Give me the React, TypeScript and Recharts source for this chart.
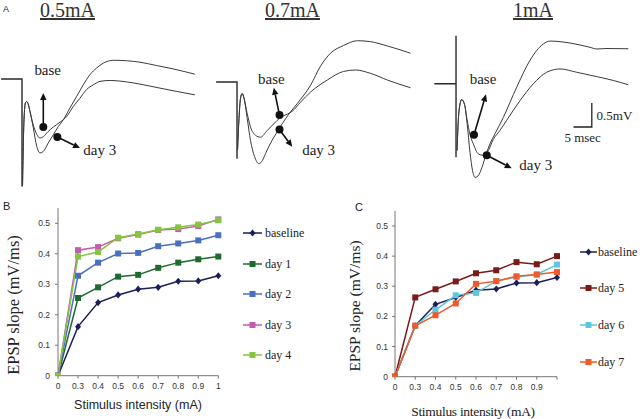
import React from 'react';
import { LineChart, Line, XAxis, YAxis, ReferenceLine, ReferenceDot } from 'recharts';

// ---------- Panel A: field potential traces (time in ms, voltage in mV) ----------
const PX_PER_MS = 3.67;
const PX_PER_MV = 48;

type Pt = [number, number];

const artifact05: Pt[] = [[-5.7, 0], [0, 0], [0, -2.24]];
const day3Trace05: Pt[] = [[0.14, -2.22], [0.54, -0.85], [0.95, -0.49], [1.28, -0.47], [1.63, -0.51], [2.18, -0.68], [3.08, -1.02], [4.0, -1.4], [4.9, -1.54], [5.8, -1.51], [7.17, -1.33], [8.53, -1.16], [9.9, -0.99], [11.25, -0.85], [13.08, -0.6], [14.9, -0.36], [16.7, -0.12], [18.5, 0.09], [20.35, 0.23], [22.15, 0.33], [24.9, 0.39], [28.5, 0.38], [32.15, 0.35], [36.7, 0.28], [41.2, 0.21], [47.1, 0.1]];
const baseTrace05: Pt[] = [[0.14, -2.22], [0.54, -0.85], [0.95, -0.49], [1.28, -0.47], [1.63, -0.51], [2.18, -0.68], [3.08, -0.96], [4.0, -1.15], [4.9, -1.23], [5.8, -1.2], [7.17, -1.09], [8.53, -1.0], [10.35, -0.9], [12.17, -0.78], [14.0, -0.57], [15.8, -0.4], [17.6, -0.22], [19.45, -0.12], [21.25, -0.05], [24.0, -0.03], [28.5, -0.06], [33.05, -0.12], [37.6, -0.19], [42.2, -0.26], [47.1, -0.33]];

const artifact07: Pt[] = [[-5.7, 0], [0, 0], [0, -1.6]];
const day3Trace07: Pt[] = [[0.14, -1.42], [0.54, -0.76], [0.95, -0.34], [1.42, -0.24], [1.85, -0.32], [2.78, -0.76], [3.68, -1.22], [4.77, -1.55], [5.94, -1.7], [6.95, -1.63], [7.77, -1.49], [9.59, -1.21], [10.95, -1.04], [12.32, -0.87], [14.11, -0.67], [16.4, -0.45], [20.03, -0.07], [22.75, 0.33], [25.48, 0.6], [29.02, 0.76], [32.83, 0.86], [36.38, 0.84], [41.0, 0.75], [47.27, 0.6]];
const baseTrace07: Pt[] = [[0.14, -1.42], [0.54, -0.76], [0.95, -0.34], [1.42, -0.24], [1.85, -0.32], [2.78, -0.66], [3.68, -0.94], [5.04, -1.11], [6.4, -1.15], [8.23, -1.01], [10.03, -0.87], [11.85, -0.74], [13.68, -0.67], [15.04, -0.61], [17.3, -0.42], [20.03, -0.21], [24.58, 0.04], [29.02, 0.22], [32.3, 0.25], [36.38, 0.18], [41.0, 0.04], [47.27, -0.12]];

const artifact1: Pt[] = [[-5.9, 0], [0, 0], [0, 1.0], [0, -1.53]];
const day3Trace1: Pt[] = [[0.27, -1.39], [0.82, -0.56], [1.55, -0.33], [2.32, -0.43], [3.0, -0.81], [3.81, -1.43], [4.5, -1.81], [5.18, -1.95], [5.99, -1.92], [7.08, -1.74], [8.17, -1.47], [9.26, -1.25], [10.63, -1.04], [12.89, -0.7], [16.54, -0.07], [20.16, 0.49], [23.79, 0.83], [25.61, 0.89], [31.06, 0.85], [36.51, 0.76], [38.42, 0.725], [41.14, 0.735], [46.95, 0.73]];
const baseTrace1: Pt[] = [[0.27, -1.39], [0.82, -0.56], [1.55, -0.33], [2.32, -0.43], [3.0, -0.74], [3.81, -1.06], [4.71, -1.25], [6.08, -1.46], [7.44, -1.49], [8.8, -1.39], [10.16, -1.16], [11.99, -0.97], [13.81, -0.76], [17.44, -0.35], [21.06, 0.0], [24.71, 0.24], [28.34, 0.31], [32.89, 0.24], [38.34, 0.15], [42.86, 0.07], [46.95, -0.02]];

// annotation anchors: [dot, arrow tip, label]
const baseArrow05: Pt[] = [[5.8, -1.0], [5.8, -0.29], [7.0, 0.18]];
const day3Arrow05: Pt[] = [[9.62, -1.21], [15.8, -1.44], [16.7, -1.47]];
const baseArrow07: Pt[] = [[11.58, -0.69], [10.03, -0.12], [9.35, 0.07]];
const day3Arrow07: Pt[] = [[11.58, -0.99], [15.04, -1.35], [17.77, -1.42]];
const baseArrow1: Pt[] = [[4.9, -1.06], [8.17, -0.22], [7.36, 0.1]];
const day3Arrow1: Pt[] = [[8.37, -1.49], [15.18, -1.76], [17.25, -1.7]];

const scaleBar: Pt[] = [[32, -0.9], [37, -0.9], [37, -0.4]];
const scaleLabels = { mv: '0.5mV', ms: '5 msec' };
const scaleLabelPos: Pt[] = [[38.3, -0.66], [34.5, -1.11]];

const panelTitles = ['0.5mA', '0.7mA', '1mA'];

// ---------- Panel B ----------
const intensityB = ['0', '0.3', '0.4', '0.5', '0.6', '0.7', '0.8', '0.9', '1'];
const tickLabelsB = ['0', '0.3', '0.4', '0.5', '0.6', '0.7', '0.8', '0.9', '1'];
const baselineB = [0, 0.161, 0.24, 0.265, 0.284, 0.29, 0.31, 0.311, 0.328];
const day1B = [0, 0.255, 0.29, 0.325, 0.331, 0.354, 0.371, 0.382, 0.391];
const day2B = [0, 0.328, 0.371, 0.401, 0.403, 0.425, 0.434, 0.444, 0.461];
const day3B = [0, 0.412, 0.422, 0.451, 0.463, 0.478, 0.481, 0.491, 0.513];
const day4B = [0, 0.391, 0.406, 0.453, 0.465, 0.479, 0.487, 0.496, 0.51];

// ---------- Panel C ----------
const intensityC = ['0', '0.3', '0.4', '0.5', '0.6', '0.7', '0.8', '0.9', '1.0'];
const tickLabelsC = ['0', '0.3', '0.4', '0.5', '0.6', '0.7', '0.8', '0.9', ''];
const baselineC = [0, 0.169, 0.24, 0.263, 0.287, 0.291, 0.311, 0.312, 0.329];
const day5C = [0, 0.263, 0.29, 0.316, 0.343, 0.353, 0.38, 0.373, 0.4];
const day6C = [0, 0.169, 0.222, 0.27, 0.278, 0.317, 0.331, 0.339, 0.372];
const day7C = [0, 0.169, 0.204, 0.243, 0.308, 0.317, 0.333, 0.339, 0.347];

const yTicks = [0, 0.1, 0.2, 0.3, 0.4, 0.5];

const seriesB = [
  { key: 'baseline', name: 'baseline', color: '#1c1e5a', marker: 'diamond', values: baselineB },
  { key: 'day1', name: 'day 1', color: '#1f6a2f', marker: 'square', values: day1B },
  { key: 'day2', name: 'day 2', color: '#4b6fbf', marker: 'square', values: day2B },
  { key: 'day3', name: 'day 3', color: '#c25cae', marker: 'square', values: day3B },
  { key: 'day4', name: 'day 4', color: '#86c442', marker: 'square', values: day4B },
];
const seriesC = [
  { key: 'baseline', name: 'baseline', color: '#1c1e5a', marker: 'diamond', values: baselineC },
  { key: 'day5', name: 'day 5', color: '#7a1b1b', marker: 'square', values: day5C },
  { key: 'day6', name: 'day 6', color: '#5ec6df', marker: 'square', values: day6C },
  { key: 'day7', name: 'day 7', color: '#ef5a2a', marker: 'square', values: day7C },
];

const SERIF = 'Liberation Serif, Times New Roman, Times, serif';
const SANS = 'Liberation Sans, Arial, Helvetica, sans-serif';

const toRows = (pts: Pt[]) => pts.map(([t, v]) => ({ t, v }));

const ArrowShape = (p: any) => {
  const { x1, y1, x2, y2 } = p;
  if ([x1, y1, x2, y2].some((n) => n == null || isNaN(n))) return <g />;
  const ang = Math.atan2(y2 - y1, x2 - x1);
  const L = 7;
  const W = 3.2;
  const bx = x2 - L * Math.cos(ang);
  const by = y2 - L * Math.sin(ang);
  const nx = -Math.sin(ang);
  const ny = Math.cos(ang);
  return (
    <g>
      <line x1={x1} y1={y1} x2={bx} y2={by} stroke="#111" strokeWidth={1.6} />
      <polygon points={`${x2},${y2} ${bx + nx * W},${by + ny * W} ${bx - nx * W},${by - ny * W}`} fill="#111" />
      <circle cx={x1} cy={y1} r={4} fill="#111" />
    </g>
  );
};

const textShape = (label: string, anchor: 'start' | 'middle' | 'end', size: number) => (p: any) => (
  <text x={p.cx} y={p.cy} textAnchor={anchor} dominantBaseline="central" style={{ fontFamily: SERIF, fontSize: size }} fill="#222">
    {label}
  </text>
);

type TraceProps = {
  left: number; top0: number; tmin: number; tmax: number; vmin: number; vmax: number;
  artifact: Pt[]; base: Pt[]; day3: Pt[]; baseArrow: Pt[]; day3Arrow: Pt[]; withScale?: boolean;
};

function TracePanel({ left, top0, tmin, tmax, vmin, vmax, artifact, base, day3, baseArrow, day3Arrow, withScale }: TraceProps) {
  const w = (tmax - tmin) * PX_PER_MS;
  const h = (vmax - vmin) * PX_PER_MV;
  const top = top0 - vmax * PX_PER_MV;
  return (
    <div style={{ position: 'absolute', left, top }}>
      <LineChart width={w} height={h} margin={{ top: 0, right: 0, bottom: 0, left: 0 }}>
        <XAxis type="number" dataKey="t" domain={[tmin, tmax]} hide />
        <YAxis type="number" domain={[vmin, vmax]} hide />
        <Line data={toRows(artifact)} dataKey="v" type="linear" stroke="#2a2a2a" strokeWidth={1.4} dot={false} isAnimationActive={false} />
        <Line data={toRows(base)} dataKey="v" type="monotone" stroke="#3a3a3a" strokeWidth={1} dot={false} isAnimationActive={false} />
        <Line data={toRows(day3)} dataKey="v" type="monotone" stroke="#3a3a3a" strokeWidth={1} dot={false} isAnimationActive={false} />
        {withScale && (
          <Line data={toRows(scaleBar)} dataKey="v" type="linear" stroke="#222" strokeWidth={1.3} dot={false} isAnimationActive={false} />
        )}
        <ReferenceLine segment={[{ x: baseArrow[0][0], y: baseArrow[0][1] }, { x: baseArrow[1][0], y: baseArrow[1][1] }]} shape={ArrowShape} />
        <ReferenceLine segment={[{ x: day3Arrow[0][0], y: day3Arrow[0][1] }, { x: day3Arrow[1][0], y: day3Arrow[1][1] }]} shape={ArrowShape} />
        <ReferenceDot x={baseArrow[2][0]} y={baseArrow[2][1]} r={0} shape={textShape('base', 'middle', 15)} />
        <ReferenceDot x={day3Arrow[2][0]} y={day3Arrow[2][1]} r={0} shape={textShape('day 3', 'start', 15)} />
        {withScale && (
          <ReferenceDot x={scaleLabelPos[0][0]} y={scaleLabelPos[0][1]} r={0} shape={textShape(scaleLabels.mv, 'start', 13)} />
        )}
        {withScale && (
          <ReferenceDot x={scaleLabelPos[1][0]} y={scaleLabelPos[1][1]} r={0} shape={textShape(scaleLabels.ms, 'middle', 13)} />
        )}
      </LineChart>
    </div>
  );
}

const markerFor = (marker: string, color: string) => (p: any) => {
  const { cx, cy, index } = p;
  if (cx == null || cy == null) return <g key={`m${index}`} />;
  if (marker === 'diamond') {
    return <polygon key={`m${index}`} points={`${cx},${cy - 3.6} ${cx + 3},${cy} ${cx},${cy + 3.6} ${cx - 3},${cy}`} fill={color} />;
  }
  return <rect key={`m${index}`} x={cx - 3} y={cy - 3} width={6} height={6} fill={color} />;
};

type Series = { key: string; name: string; color: string; marker: string; values: number[] };

function ResponseChart({ left, top, width, height, margin, yAxisWidth, xAxisHeight, categories, tickLabels, series, yTickMargin }: any) {
  const rows = categories.map((x: string, i: number) => {
    const r: any = { x };
    (series as Series[]).forEach((s) => { r[s.key] = s.values[i]; });
    return r;
  });
  const tickStyle = { fontSize: 8.5, fill: '#333', fontFamily: SANS };
  return (
    <div style={{ position: 'absolute', left, top }}>
      <LineChart width={width} height={height} data={rows} margin={margin}>
        <XAxis dataKey="x" type="category" interval={0} height={xAxisHeight} padding={{ left: 0, right: 0 }}
          tickSize={3} tickMargin={4.5} axisLine={{ stroke: '#777' }} tickLine={{ stroke: '#777' }} tick={tickStyle}
          tickFormatter={(_v: any, i: number) => tickLabels[i]} />
        <YAxis type="number" domain={[0, 0.55]} ticks={yTicks} width={yAxisWidth} tickSize={3} tickMargin={yTickMargin}
          axisLine={{ stroke: '#777' }} tickLine={{ stroke: '#777' }} tick={tickStyle} allowDataOverflow />
        {(series as Series[]).map((s) => (
          <Line key={s.key} dataKey={s.key} name={s.name} type="linear" stroke={s.color} strokeWidth={1.5}
            dot={markerFor(s.marker, s.color)} isAnimationActive={false} />
        ))}
      </LineChart>
    </div>
  );
}

function LegendBlock({ series, left, top, gap, lineLen, textGap }: any) {
  return (
    <>
      {(series as Series[]).map((s, i) => (
        <div key={s.key} style={{ position: 'absolute', left, top: top + i * gap - 7, height: 14, display: 'flex', alignItems: 'center', whiteSpace: 'nowrap' }}>
          <svg width={lineLen} height={10} style={{ display: 'block' }}>
            <line x1={0} y1={5} x2={lineLen} y2={5} stroke={s.color} strokeWidth={1.5} />
            {s.marker === 'diamond'
              ? <polygon points={`${lineLen / 2},1.4 ${lineLen / 2 + 3},5 ${lineLen / 2},8.6 ${lineLen / 2 - 3},5`} fill={s.color} />
              : <rect x={lineLen / 2 - 3} y={2} width={6} height={6} fill={s.color} />}
          </svg>
          <span style={{ marginLeft: textGap, fontFamily: SERIF, fontSize: 12, color: '#222', lineHeight: '14px' }}>{s.name}</span>
        </div>
      ))}
    </>
  );
}

const abs = (extra: React.CSSProperties): React.CSSProperties => ({ position: 'absolute', whiteSpace: 'nowrap', color: '#222', ...extra });

export default function App() {
  return (
    <div style={{ position: 'absolute', left: 0, top: 0, width: 640, height: 419, background: '#fff', overflow: 'hidden' }}>
      {/* Panel A */}
      <div style={abs({ left: 3, top: 4, fontFamily: SANS, fontSize: 9 })}>A</div>
      <div style={abs({ left: 40, top: 0, fontFamily: SERIF, fontSize: 20, lineHeight: '20px', textDecoration: 'underline', color: '#333' })}>{panelTitles[0]}</div>
      <div style={abs({ left: 265, top: 0, fontFamily: SERIF, fontSize: 20, lineHeight: '20px', textDecoration: 'underline', color: '#333' })}>{panelTitles[1]}</div>
      <div style={abs({ left: 513, top: 0, fontFamily: SERIF, fontSize: 20, lineHeight: '20px', textDecoration: 'underline', color: '#333' })}>{panelTitles[2]}</div>
      <TracePanel left={0} top0={79.3} tmin={-6} tmax={50} vmin={-2.5} vmax={1.0} artifact={artifact05} base={baseTrace05} day3={day3Trace05} baseArrow={baseArrow05} day3Arrow={day3Arrow05} />
      <TracePanel left={214.5} top0={81.7} tmin={-6} tmax={50} vmin={-2.5} vmax={1.0} artifact={artifact07} base={baseTrace07} day3={day3Trace07} baseArrow={baseArrow07} day3Arrow={day3Arrow07} />
      <TracePanel left={434} top0={83.3} tmin={-6} tmax={50} vmin={-2.5} vmax={1.1} artifact={artifact1} base={baseTrace1} day3={day3Trace1} baseArrow={baseArrow1} day3Arrow={day3Arrow1} withScale />

      {/* Panel B */}
      <div style={abs({ left: 3, top: 200, fontFamily: SANS, fontSize: 11 })}>B</div>
      <ResponseChart left={0} top={195} width={320} height={224} margin={{ top: 13.1, right: 101.7, bottom: 0, left: 0 }}
        yAxisWidth={58} xAxisHeight={43.3} categories={intensityB} tickLabels={tickLabelsB} series={seriesB} yTickMargin={5} />
      <div style={abs({ left: 14, top: 305, transform: 'translate(-50%, -50%) rotate(-90deg)', fontFamily: SERIF, fontSize: 16.5 })}>EPSP slope (mV/ms)</div>
      <div style={abs({ left: 138, top: 405, transform: 'translate(-50%, -50%)', fontFamily: SANS, fontSize: 12.5 })}>Stimulus intensity (mA)</div>
      <LegendBlock series={seriesB} left={243} top={233} gap={30.5} lineLen={19} textGap={3} />

      {/* Panel C */}
      <div style={abs({ left: 355, top: 201, fontFamily: SANS, fontSize: 11 })}>C</div>
      <ResponseChart left={320} top={195} width={320} height={224} margin={{ top: 15.9, right: 83, bottom: 0, left: 0 }}
        yAxisWidth={75} xAxisHeight={42.3} categories={intensityC} tickLabels={tickLabelsC} series={seriesC} yTickMargin={4} />
      <div style={abs({ left: 355, top: 306, transform: 'translate(-50%, -50%) rotate(-90deg)', fontFamily: SERIF, fontSize: 15.5 })}>EPSP slope (mV/ms)</div>
      <div style={abs({ left: 473, top: 411.5, transform: 'translate(-50%, -50%)', fontFamily: SERIF, fontSize: 13.5, letterSpacing: -0.3 })}>Stimulus intensity (mA)</div>
      <LegendBlock series={seriesC} left={580} top={251.7} gap={36.7} lineLen={17} textGap={1} />
    </div>
  );
}
